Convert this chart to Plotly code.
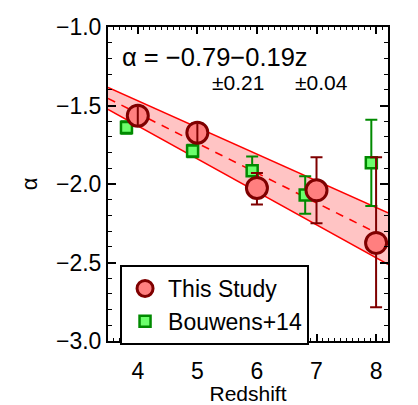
import numpy as np
import plotly.graph_objects as go

# UV slope (alpha) of the luminosity function versus redshift
study_z = [4.0, 5.0, 6.0, 7.0, 8.0]
study_alpha = [-1.565, -1.673, -2.025, -2.04, -2.375]
study_err_plus = [0.06, 0.06, 0.095, 0.21, 0.545]
study_err_minus = [0.06, 0.06, 0.105, 0.21, 0.41]

bouwens_z = [3.81, 4.92, 5.92, 6.81, 7.92]
bouwens_alpha = [-1.64, -1.79, -1.915, -2.07, -1.865]
bouwens_err = [0.04, 0.04, 0.09, 0.12, 0.275]

# linear fit alpha = a + b*z and its uncertainty envelope on the slope
fit_intercept = -0.79
fit_slope = -0.19
slope_spread = 0.02

x_range = [3.5, 8.2]
y_range = [-3.0, -1.0]

z_grid = np.linspace(x_range[0], x_range[1], 50)
fit_mid = fit_intercept + fit_slope * z_grid
fit_hi = fit_intercept + (fit_slope + slope_spread) * z_grid
fit_lo = fit_intercept + (fit_slope - slope_spread) * z_grid

RED = "#ff0000"
DARK_RED = "#7f0000"
PINK = "#ffc4c4"
SALMON = "#ff7f7f"
GREEN = "#008a00"
LIGHT_GREEN = "#6cff6c"
FONT = "Liberation Sans, Arial, sans-serif"

# figure geometry (pixels)
W, H = 418, 405
M_L, M_R, M_T, M_B = 108, 30, 27, 64

fig = go.Figure()

# shaded fit envelope
fig.add_trace(go.Scatter(x=z_grid, y=fit_lo, mode="lines",
                         line=dict(color=RED, width=1.6), showlegend=False,
                         hoverinfo="skip"))
fig.add_trace(go.Scatter(x=z_grid, y=fit_hi, mode="lines", fill="tonexty",
                         fillcolor=PINK, line=dict(color=RED, width=1.6),
                         showlegend=False, hoverinfo="skip"))
fig.add_trace(go.Scatter(x=z_grid, y=fit_mid, mode="lines",
                         line=dict(color=RED, width=1.6, dash="8px,7px"),
                         showlegend=False, hoverinfo="skip"))

# Bouwens+14 points
fig.add_trace(go.Scatter(
    x=bouwens_z, y=bouwens_alpha, mode="markers", name="Bouwens+14",
    marker=dict(symbol="square", size=11, color=LIGHT_GREEN,
                line=dict(color=GREEN, width=2.5)),
    error_y=dict(type="data", array=bouwens_err, color=GREEN,
                 thickness=2, width=6),
))

# this study
fig.add_trace(go.Scatter(
    x=study_z, y=study_alpha, mode="markers", name="This Study",
    marker=dict(symbol="circle", size=21, color=SALMON,
                line=dict(color=DARK_RED, width=3)),
    error_y=dict(type="data", symmetric=False, array=study_err_plus,
                 arrayminus=study_err_minus, color=DARK_RED,
                 thickness=2, width=6),
))

# small error bars that sit inside the circles are drawn over them
fig.add_trace(go.Scatter(
    x=study_z[:2], y=study_alpha[:2], mode="markers", showlegend=False,
    marker=dict(size=1, color="rgba(0,0,0,0)"),
    error_y=dict(type="data", array=study_err_plus[:2], color=DARK_RED,
                 thickness=2, width=0),
    hoverinfo="skip",
))

axis_common = dict(
    showline=True, linecolor="black", linewidth=2, mirror="allticks",
    ticks="inside", tickcolor="black", tickwidth=1.5,
    showgrid=False, zeroline=False, automargin=False,
    tickfont=dict(family=FONT, size=23, color="black"),
)

fig.update_xaxes(
    range=x_range, tickvals=[4, 5, 6, 7, 8], ticklen=7,
    ticklabelstandoff=8,
    minor=dict(dtick=0.1, ticks="inside", ticklen=3, tickcolor="black",
               tickwidth=1, showgrid=False),
    title=dict(text="Redshift", font=dict(family=FONT, size=21, color="black"),
               standoff=14),
    **axis_common,
)
fig.update_yaxes(
    range=y_range, tickvals=[-3.0, -2.5, -2.0, -1.5, -1.0],
    ticktext=["\u22123.0", "\u22122.5", "\u22122.0", "\u22121.5", "\u22121.0"],
    ticklen=8,
    minor=dict(dtick=0.1, ticks="inside", ticklen=4, tickcolor="black",
               tickwidth=1, showgrid=False),
    title=dict(text="\u03b1", font=dict(family=FONT, size=22, color="black"),
               standoff=12),
    **axis_common,
)

fig.add_annotation(
    x=0.043, y=0.904, xref="paper", yref="paper", xanchor="left",
    yanchor="middle", showarrow=False,
    text="\u03b1 = \u22120.79\u22120.19z",
    font=dict(family=FONT, size=25.5, color="black"),
)
fig.add_annotation(
    x=0.364, y=0.822, xref="paper", yref="paper", xanchor="left",
    yanchor="middle", showarrow=False, text="\u00b10.21",
    font=dict(family=FONT, size=21, color="black"),
)
fig.add_annotation(
    x=0.661, y=0.822, xref="paper", yref="paper", xanchor="left",
    yanchor="middle", showarrow=False, text="\u00b10.04",
    font=dict(family=FONT, size=21, color="black"),
)

fig.update_layout(
    width=W, height=H,
    margin=dict(l=M_L, r=M_R, t=M_T, b=M_B),
    paper_bgcolor="white", plot_bgcolor="white",
    font=dict(family=FONT, color="black"),
    showlegend=True,
    legend=dict(
        x=0.043, y=0.242, xanchor="left", yanchor="top",
        bgcolor="white", bordercolor="black", borderwidth=2,
        font=dict(family=FONT, size=23, color="black"),
        traceorder="reversed", itemwidth=36, tracegroupgap=0,
    ),
)

fig.write_html("out.html")
